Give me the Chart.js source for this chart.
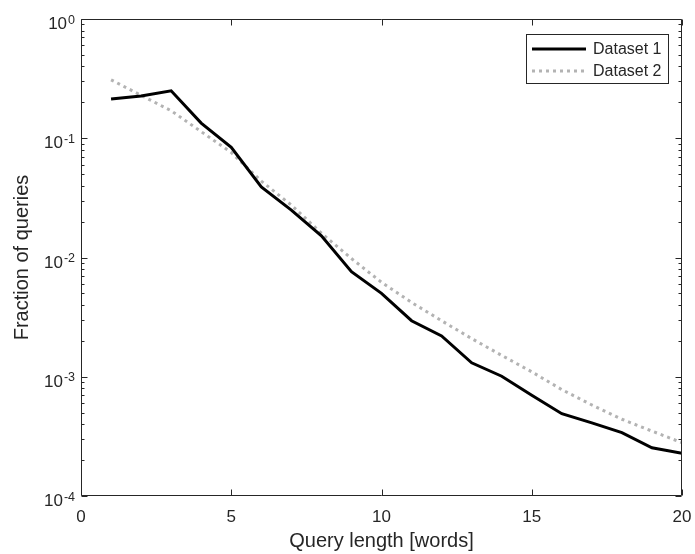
<!DOCTYPE html>
<html>
<head>
<meta charset="utf-8">
<script src="https://cdn.jsdelivr.net/npm/chart.js@4.4.1/dist/chart.umd.min.js"></script>
<style>
  html, body { margin: 0; padding: 0; background: #fff; }
  #wrap { width: 695px; height: 554px; position: relative; }
</style>
</head>
<body>
<div id="wrap"><canvas id="chart"></canvas></div>
<script>
// query length in words
const queryLength = [1, 2, 3, 4, 5, 6, 7, 8, 9, 10, 11, 12, 13, 14, 15, 16, 17, 18, 19, 20];

// fraction of queries
const dataset1 = [0.213, 0.226, 0.25, 0.134, 0.084, 0.039, 0.025, 0.0152, 0.0076, 0.0050,
  0.00295, 0.0022, 0.00131, 0.00101, 0.00070, 0.00049, 0.00041, 0.00034, 0.000254, 0.000228];
const dataset2 = [0.309, 0.229, 0.170, 0.1135, 0.0759, 0.0437, 0.0275, 0.0160, 0.0098, 0.0062,
  0.0042, 0.00295, 0.00209, 0.00151, 0.00110, 0.00078, 0.00058, 0.00044, 0.00035, 0.00028];

const seriesLabels = ['Dataset 1', 'Dataset 2'];

const xTicks = [0, 5, 10, 15, 20];
const yTicks = [1, 0.1, 0.01, 0.001, 0.0001];
const yTickExps = ['0', '-1', '-2', '-3', '-4'];

const xTitle = 'Query length [words]';
const yTitle = 'Fraction of queries';

const AXIS = '#262626';
const FONT = '"Liberation Sans", Arial, Helvetica, sans-serif';

const toPoints = (ys) => queryLength.map((x, i) => ({ x: x, y: ys[i] }));

// axes, ticks, labels and legend in matlab style
const matlabAxes = {
  id: 'matlabAxes',
  afterDatasetsDraw(chart) {
    const { ctx, chartArea: a, scales } = chart;
    const xs = scales.x, ys = scales.y;
    const L = Math.round(a.left) + 0.5, R = Math.round(a.right) - 0.5;
    const T = Math.round(a.top) + 0.5, B = Math.round(a.bottom) - 0.5;
    ctx.save();
    ctx.strokeStyle = AXIS;
    ctx.lineWidth = 1;
    ctx.beginPath();
    ctx.rect(L, T, R - L, B - T);
    // x ticks, bottom and top
    xTicks.forEach(v => {
      const px = Math.round(xs.getPixelForValue(v)) + 0.5;
      ctx.moveTo(px, B); ctx.lineTo(px, B - 6);
      ctx.moveTo(px, T); ctx.lineTo(px, T + 6);
    });
    // y ticks, major and minor, left and right
    yTicks.forEach((v, i) => {
      const py = Math.round(ys.getPixelForValue(v)) + 0.5;
      ctx.moveTo(L, py); ctx.lineTo(L + 6, py);
      ctx.moveTo(R, py); ctx.lineTo(R - 6, py);
      if (i < yTicks.length - 1) {
        for (let m = 2; m <= 9; m++) {
          const my = Math.round(ys.getPixelForValue(yTicks[i + 1] * m)) + 0.5;
          ctx.moveTo(L, my); ctx.lineTo(L + 3, my);
          ctx.moveTo(R, my); ctx.lineTo(R - 3, my);
        }
      }
    });
    ctx.stroke();

    ctx.fillStyle = AXIS;
    // x tick labels
    ctx.font = '17px ' + FONT;
    ctx.textAlign = 'center';
    ctx.textBaseline = 'alphabetic';
    xTicks.forEach(v => {
      ctx.fillText(String(v), xs.getPixelForValue(v), a.bottom + 26);
    });
    // y tick labels 10^n
    const rightEdge = a.left - 6;
    yTicks.forEach((v, i) => {
      const py = ys.getPixelForValue(v);
      ctx.textAlign = 'right';
      ctx.font = '12.5px ' + FONT;
      const supW = ctx.measureText(yTickExps[i]).width;
      ctx.fillText(yTickExps[i], rightEdge, py + 4.5);
      ctx.font = '17px ' + FONT;
      ctx.fillText('10', rightEdge - supW - 1, py + 10);
    });
    // titles
    ctx.font = '20px ' + FONT;
    ctx.textAlign = 'center';
    ctx.fillText(xTitle, (a.left + a.right) / 2, a.bottom + 51);
    ctx.save();
    ctx.translate(28, (a.top + a.bottom) / 2);
    ctx.rotate(-Math.PI / 2);
    ctx.fillText(yTitle, 0, 0);
    ctx.restore();

    // legend box
    const lx = 526.5, ly = 34.5, lw = 142, lh = 49;
    ctx.fillStyle = '#fff';
    ctx.fillRect(lx, ly, lw, lh);
    ctx.strokeStyle = AXIS;
    ctx.lineWidth = 1;
    ctx.strokeRect(lx, ly, lw, lh);
    ctx.font = '16px ' + FONT;
    ctx.textAlign = 'left';
    ctx.textBaseline = 'middle';
    chart.data.datasets.forEach((ds, i) => {
      const yy = 49 + i * 22;
      ctx.strokeStyle = ds.borderColor;
      ctx.lineWidth = ds.borderWidth;
      ctx.setLineDash(ds.borderDash || []);
      ctx.lineCap = 'butt';
      ctx.beginPath();
      ctx.moveTo(532, yy); ctx.lineTo(586, yy);
      ctx.stroke();
      ctx.setLineDash([]);
      ctx.fillStyle = AXIS;
      ctx.fillText(ds.label, 593, yy + 1);
    });
    ctx.restore();
  }
};

new Chart(document.getElementById('chart'), {
  type: 'line',
  data: {
    datasets: [
      {
        label: seriesLabels[0],
        data: toPoints(dataset1),
        borderColor: '#000000',
        borderWidth: 3,
        pointRadius: 0,
        tension: 0,
        fill: false
      },
      {
        label: seriesLabels[1],
        data: toPoints(dataset2),
        borderColor: '#b3b3b3',
        borderWidth: 3,
        borderDash: [3, 4],
        borderCapStyle: 'butt',
        pointRadius: 0,
        tension: 0,
        fill: false
      }
    ]
  },
  options: {
    responsive: true,
    maintainAspectRatio: false,
    animation: false,
    layout: { padding: { left: 81, right: 13, top: 19, bottom: 58 } },
    plugins: {
      legend: { display: false },
      tooltip: { enabled: false }
    },
    scales: {
      x: { type: 'linear', min: 0, max: 20, display: false },
      y: { type: 'logarithmic', min: 0.0001, max: 1, display: false }
    }
  },
  plugins: [matlabAxes]
});
</script>
</body>
</html>
